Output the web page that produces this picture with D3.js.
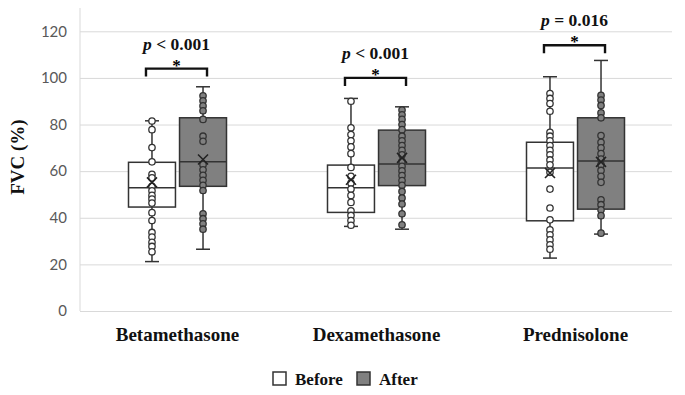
<!DOCTYPE html>
<html>
<head>
<meta charset="utf-8">
<script src="https://cdn.jsdelivr.net/npm/d3@7"></script>
<style>
  body { margin: 0; background: #fff; }
  svg { display: block; }
</style>
</head>
<body>
<div id="chart"></div>
<script>
const categories = ["Betamethasone", "Dexamethasone", "Prednisolone"];
const groups = ["Before", "After"];
const yTicks = [0, 20, 40, 60, 80, 100, 120];

// [min, q1, median, q3, max, mean]
const beforeStats = [
  [21.2, 44.6, 52.9, 63.8, 81.6, 55.2],
  [36.3, 42.3, 52.9, 62.6, 91.2, 56.3],
  [22.7, 38.7, 61.4, 72.4, 100.5, 59.2],
];
const afterStats = [
  [26.5, 53.5, 64.0, 82.9, 96.2, 65.0],
  [35.1, 53.8, 63.1, 77.6, 87.6, 65.7],
  [33.0, 43.7, 64.4, 82.9, 107.5, 64.0],
];

// individual patients
const betaBefore = [81.5, 77.8, 70.1, 64.0, 58.6, 57.1, 53.5, 51.6, 49.6, 48.0, 46.3, 42.2, 38.8, 33.7, 31.7, 29.5, 27.7, 25.4];
const betaAfter = [92.3, 90.2, 88.0, 85.9, 82.2, 75.0, 72.8, 62.8, 60.6, 58.2, 56.1, 53.9, 51.7, 41.7, 39.6, 37.4, 35.1];
const dexaBefore = [90.0, 78.6, 75.7, 73.0, 70.4, 67.5, 61.6, 57.8, 54.9, 52.3, 49.6, 46.6, 43.0, 41.0, 38.8, 36.8];
const dexaAfter = [86.2, 84.2, 82.2, 80.0, 77.8, 75.0, 73.0, 71.0, 68.9, 67.0, 64.2, 62.1, 60.1, 58.1, 56.0, 53.9, 51.3, 48.5, 45.9, 41.7, 37.0];
const predBefore = [93.3, 91.2, 89.0, 85.7, 76.7, 75.0, 73.0, 71.0, 68.9, 67.0, 64.8, 62.7, 59.5, 52.3, 44.2, 39.1, 34.8, 32.7, 30.5, 28.4, 26.5];
const predAfter = [92.5, 90.5, 88.2, 85.0, 82.9, 75.3, 72.4, 70.0, 67.5, 65.2, 62.8, 60.3, 57.8, 55.2, 47.7, 45.6, 43.4, 40.9, 33.4];

const pLabels = [["<", "0.001"], ["<", "0.001"], ["=", "0.016"]];
const bracketLevels = [104, 100, 114];

const W = 685, H = 395;
const plot = { left: 80, right: 672, top: 8, bottom: 311 };
const serif = "'Liberation Serif', 'Times New Roman', serif";

const svg = d3.select("#chart").append("svg")
  .attr("width", W).attr("height", H);

const y = d3.scaleLinear().domain([0, 130]).range([plot.bottom, plot.top]);
const x = d3.scaleBand().domain(categories).range([78, 675]);
const xi = d3.scaleBand().domain(groups).range([-49, 49]).paddingInner(0.08);
const fills = { Before: "#ffffff", After: "#808080" };

// grid + axes
const yAxis = svg.append("g")
  .attr("transform", `translate(${plot.left},0)`)
  .call(d3.axisLeft(y).tickValues(yTicks).tickSize(-(plot.right - plot.left)).tickPadding(13));
yAxis.select(".domain").remove();
yAxis.selectAll(".tick line").attr("stroke", "#d9d9d9").attr("stroke-width", 1);
yAxis.selectAll(".tick text")
  .attr("fill", "#595959")
  .style("font-family", "Lato, 'Open Sans', sans-serif")
  .style("font-size", "15px");
svg.append("line")
  .attr("x1", plot.left).attr("x2", plot.left)
  .attr("y1", plot.top).attr("y2", plot.bottom)
  .attr("stroke", "#d9d9d9");

// category labels
const xAxis = svg.append("g")
  .attr("transform", `translate(0,${plot.bottom})`)
  .call(d3.axisBottom(x).tickSize(0).tickPadding(17));
xAxis.select(".domain").remove();
xAxis.selectAll(".tick text")
  .attr("fill", "#111")
  .style("font-family", serif)
  .style("font-weight", "bold")
  .style("font-size", "19px");

// y title
svg.append("text")
  .attr("transform", `translate(24,${(y(0) + y(120)) / 2 - 14}) rotate(-90)`)
  .attr("text-anchor", "middle")
  .style("font-family", serif)
  .style("font-weight", "bold")
  .style("font-size", "19px")
  .attr("fill", "#111")
  .text("FVC (%)");

const pointSets = [[betaBefore, betaAfter], [dexaBefore, dexaAfter], [predBefore, predAfter]];

const rows = [];
categories.forEach((c, i) => {
  rows.push({ cat: c, grp: "Before", s: beforeStats[i], pts: pointSets[i][0] });
  rows.push({ cat: c, grp: "After", s: afterStats[i], pts: pointSets[i][1] });
});

const stroke = "#333";
const bw = xi.bandwidth();

const box = svg.append("g").selectAll("g").data(rows).join("g")
  .attr("transform", d => `translate(${x(d.cat) + x.bandwidth() / 2 + xi(d.grp) + bw / 2},0)`);

// whiskers
box.append("line").attr("x1", 0).attr("x2", 0)
  .attr("y1", d => y(d.s[4])).attr("y2", d => y(d.s[3]))
  .attr("stroke", stroke).attr("stroke-width", 1.5);
box.append("line").attr("x1", 0).attr("x2", 0)
  .attr("y1", d => y(d.s[1])).attr("y2", d => y(d.s[0]))
  .attr("stroke", stroke).attr("stroke-width", 1.5);
[0, 4].forEach(k => {
  box.append("line").attr("x1", -7).attr("x2", 7)
    .attr("y1", d => y(d.s[k])).attr("y2", d => y(d.s[k]))
    .attr("stroke", stroke).attr("stroke-width", 1.5);
});

// boxes
box.append("rect")
  .attr("x", -bw / 2).attr("width", bw)
  .attr("y", d => y(d.s[3])).attr("height", d => y(d.s[1]) - y(d.s[3]))
  .attr("fill", d => fills[d.grp])
  .attr("stroke", stroke).attr("stroke-width", 1.5);
box.append("line").attr("x1", -bw / 2).attr("x2", bw / 2)
  .attr("y1", d => y(d.s[2])).attr("y2", d => y(d.s[2]))
  .attr("stroke", stroke).attr("stroke-width", 1.5);

// points
box.each(function (d) {
  d3.select(this).selectAll("circle").data(d.pts).join("circle")
    .attr("cx", 0).attr("cy", v => y(v)).attr("r", 3.2)
    .attr("fill", fills[d.grp])
    .attr("stroke", stroke).attr("stroke-width", 1.3);
});

// mean markers
box.append("path")
  .attr("d", d => {
    const m = y(d.s[5]);
    return `M-5,${m - 5}L5,${m + 5}M5,${m - 5}L-5,${m + 5}`;
  })
  .attr("stroke", "#222").attr("stroke-width", 1.6).attr("fill", "none");

// significance brackets
categories.forEach((c, i) => {
  const cx = x(c) + x.bandwidth() / 2;
  const x1 = cx + xi("Before") + bw / 2 - 6;
  const x2 = cx + xi("After") + bw / 2 + 4;
  const by = y(bracketLevels[i]);
  svg.append("path")
    .attr("d", `M${x1},${by + 8}V${by}H${x2}V${by + 8}`)
    .attr("fill", "none").attr("stroke", "#111").attr("stroke-width", 2.4);
  svg.append("text")
    .attr("x", (x1 + x2) / 2).attr("y", by + 2)
    .attr("text-anchor", "middle")
    .style("font-family", serif).style("font-weight", "bold").style("font-size", "17px")
    .text("*");
  const t = svg.append("text")
    .attr("x", (x1 + x2) / 2).attr("y", by - 19)
    .attr("text-anchor", "middle")
    .style("font-family", serif).style("font-weight", "bold").style("font-size", "17.5px")
    .attr("fill", "#111");
  t.append("tspan").style("font-style", "italic").text("p");
  t.append("tspan").text(` ${pLabels[i][0]} ${pLabels[i][1]}`);
});

// legend
const legend = svg.append("g").attr("transform", "translate(273,372)");
const items = [{ g: "Before", x: 0 }, { g: "After", x: 84 }];
items.forEach(it => {
  legend.append("rect").attr("x", it.x).attr("y", 0).attr("width", 13).attr("height", 13)
    .attr("fill", fills[it.g]).attr("stroke", stroke).attr("stroke-width", 1.5);
  legend.append("text").attr("x", it.x + 22).attr("y", 12.5)
    .style("font-family", serif).style("font-weight", "bold").style("font-size", "17px")
    .attr("fill", "#111").text(it.g);
});
</script>
</body>
</html>
